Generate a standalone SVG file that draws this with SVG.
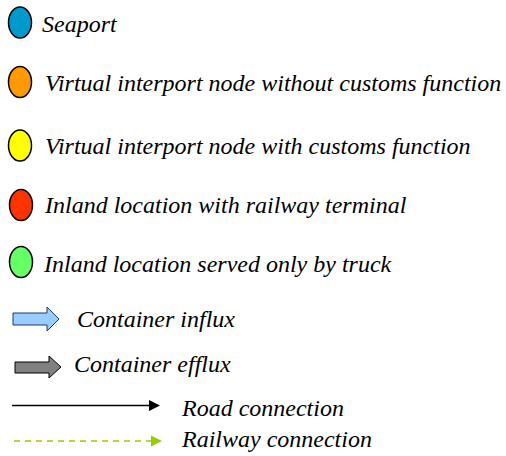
<svg xmlns="http://www.w3.org/2000/svg" width="506" height="456" viewBox="0 0 506 456">
  <rect width="506" height="456" fill="#fff"/>

  <g id="seaport">
    <ellipse cx="20" cy="22.5" rx="11.5" ry="15.5" fill="#0099CC" stroke="#000" stroke-width="1.5"/>
    <text x="42" y="32" font-family="'Times New Roman', 'Liberation Serif', serif" font-style="italic" font-size="24">Seaport</text>
  </g>
  <g id="interport-no-customs">
    <ellipse cx="20" cy="82" rx="11.5" ry="15.5" fill="#FF9900" stroke="#000" stroke-width="1.5"/>
    <text x="45" y="91" font-family="'Times New Roman', 'Liberation Serif', serif" font-style="italic" font-size="24">Virtual interport node without customs function</text>
  </g>
  <g id="interport-customs">
    <ellipse cx="20" cy="145.5" rx="11.5" ry="15.5" fill="#FFFF00" stroke="#000" stroke-width="1.5"/>
    <text x="45" y="154" font-family="'Times New Roman', 'Liberation Serif', serif" font-style="italic" font-size="24">Virtual interport node with customs function</text>
  </g>
  <g id="inland-rail">
    <ellipse cx="21" cy="205" rx="11.5" ry="15.5" fill="#FF3300" stroke="#000" stroke-width="1.5"/>
    <text x="45" y="213" font-family="'Times New Roman', 'Liberation Serif', serif" font-style="italic" font-size="24">Inland location with railway terminal</text>
  </g>
  <g id="inland-truck">
    <ellipse cx="21" cy="262" rx="11.5" ry="15.5" fill="#66FF66" stroke="#000" stroke-width="1.5"/>
    <text x="44" y="272" font-family="'Times New Roman', 'Liberation Serif', serif" font-style="italic" font-size="24">Inland location served only by truck</text>
  </g>

  <g id="influx">
    <path d="M13,313 L47,313 L47,307 L59,319 L47,331 L47,325 L13,325 z" fill="#99CCFF" stroke="#1F3A66" stroke-width="1"/>
    <text x="77" y="327" font-family="'Times New Roman', 'Liberation Serif', serif" font-style="italic" font-size="24">Container influx</text>
  </g>
  <g id="efflux">
    <path d="M15,362 L49,362 L49,356 L61,367 L49,378 L49,373 L15,373 z" fill="#808080" stroke="#000" stroke-width="1"/>
    <text x="74" y="372" font-family="'Times New Roman', 'Liberation Serif', serif" font-style="italic" font-size="24">Container efflux</text>
  </g>

  <!-- sample connectors: solid road line and dashed railway line, each with a filled head -->
  <g id="connectors">
    <line x1="12" y1="405.5" x2="150" y2="405.5" stroke="#000" stroke-width="1.5"/>
    <path d="M149,400 L160,405.5 L149,411 z" fill="#000"/>
    <line x1="14" y1="441" x2="151" y2="441" stroke="#99CC00" stroke-width="1.5" stroke-dasharray="6 5"/>
    <path d="M151,435.5 L162,441 L151,446.5 z" fill="#99CC00"/>
  </g>
  <g id="road-label">
    <text x="182" y="416" font-family="'Times New Roman', 'Liberation Serif', serif" font-style="italic" font-size="24">Road connection</text>
  </g>
  <g id="rail-label">
    <text x="182" y="447" font-family="'Times New Roman', 'Liberation Serif', serif" font-style="italic" font-size="24">Railway connection</text>
  </g>
</svg>
